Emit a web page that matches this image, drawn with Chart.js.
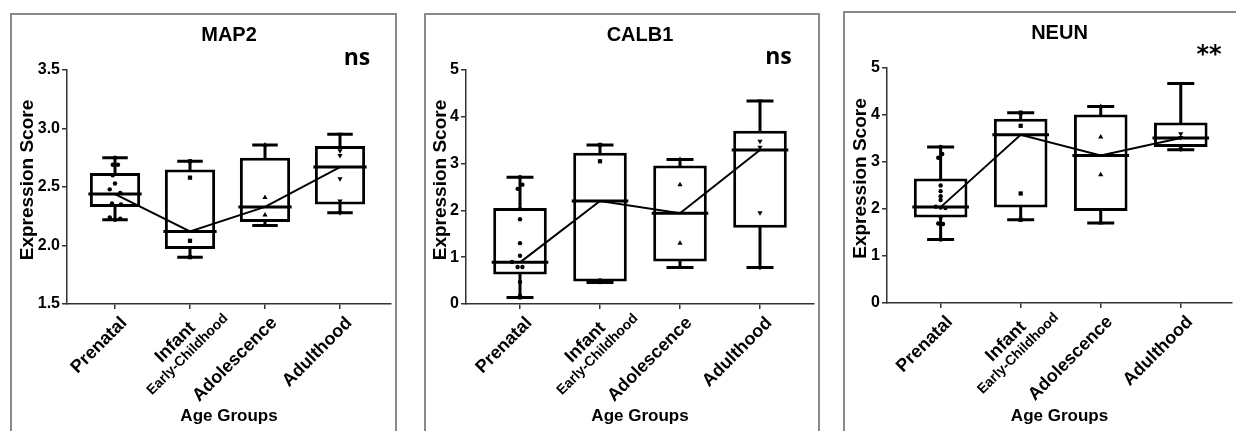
<!DOCTYPE html>
<html><head><meta charset="utf-8">
<script src="https://cdn.jsdelivr.net/npm/chart.js@4"></script>
<style>
html,body{margin:0;padding:0;background:#fff;overflow:hidden;width:1236px;height:431px;position:relative}
.frame{position:absolute;border:2px solid #8a8a8a;box-sizing:border-box}
canvas{position:absolute;top:0}
</style></head><body>
<div class="frame" style="left:10px;top:13px;width:387px;height:480px"></div>
<div class="frame" style="left:424px;top:13px;width:396px;height:480px"></div>
<div class="frame" style="left:843px;top:11px;width:420px;height:480px"></div>
<canvas id="c0" width="400" height="431" style="left:0px"></canvas>
<canvas id="c1" width="412" height="431" style="left:412px"></canvas>
<canvas id="c2" width="412" height="431" style="left:824px"></canvas>
<script>
// ---------- data ----------
const categories = ['Prenatal', ['Infant', 'Early-Childhood'], 'Adolescence', 'Adulthood'];
const panelTitles = ['MAP2', 'CALB1', 'NEUN'];
const significance = ['ns', 'ns', '**'];
const yAxisTitle = 'Expression Score';
const xAxisTitle = 'Age Groups';

const yTicksMAP2 = [1.5, 2.0, 2.5, 3.0, 3.5];
const yTicksCALB1 = [0, 1, 2, 3, 4, 5];
const yTicksNEUN = [0, 1, 2, 3, 4, 5];

// box statistics (min, Q1, median, Q3, max) per age group
const map2Min    = [2.22, 1.90, 2.17, 2.28];
const map2Q1     = [2.33, 1.97, 2.20, 2.35];
const map2Median = [2.44, 2.12, 2.33, 2.67];
const map2Q3     = [2.62, 2.65, 2.75, 2.85];
const map2Max    = [2.75, 2.72, 2.86, 2.95];

const calb1Min    = [0.14, 0.46, 0.78, 0.78];
const calb1Q1     = [0.63, 0.48, 0.91, 1.63];
const calb1Median = [0.89, 2.20, 1.94, 3.29];
const calb1Q3     = [2.05, 3.23, 2.96, 3.70];
const calb1Max    = [2.71, 3.40, 3.09, 4.34];

const neunMin    = [1.35, 1.77, 1.70, 3.26];
const neunQ1     = [1.82, 2.03, 1.96, 3.32];
const neunMedian = [2.04, 3.58, 3.14, 3.51];
const neunQ3     = [2.65, 3.92, 4.01, 3.84];
const neunMax    = [3.32, 4.05, 4.18, 4.67];

// individual samples
const map2Prenatal     = [2.75, 2.69, 2.69, 2.60, 2.53, 2.48, 2.45, 2.36, 2.35, 2.24, 2.23, 2.22];
const map2Infant       = [2.72, 2.58, 2.04, 1.90];
const map2Adolescence  = [2.86, 2.41, 2.26, 2.18, 2.17];
const map2Adulthood    = [2.95, 2.81, 2.77, 2.57, 2.38, 2.28];

const calb1Prenatal    = [2.71, 2.55, 2.46, 2.03, 1.81, 1.30, 1.03, 0.90, 0.79, 0.79, 0.47, 0.17, 0.14];
const calb1Infant      = [3.40, 3.05, 0.50, 0.47];
const calb1Adolescence = [3.09, 2.55, 1.30, 0.78];
const calb1Adulthood   = [4.34, 3.48, 3.35, 1.95, 0.78];

const neunPrenatal     = [3.32, 3.17, 3.09, 2.50, 2.38, 2.27, 2.19, 2.05, 2.03, 2.02, 1.83, 1.69, 1.68, 1.35];
const neunInfant       = [4.05, 3.77, 2.33, 1.77];
const neunAdolescence  = [4.18, 3.53, 2.73, 1.70];
const neunAdulthood    = [4.67, 3.60, 3.52, 3.34, 3.27];

// horizontal scatter offsets of the prenatal dots (display only)
const map2PrenatalJitter  = [0, -0.03, 0.04, -0.03, 0, -0.07, 0.07, -0.04, 0.08, -0.07, 0.07, 0];
const calb1PrenatalJitter = [0, 0.03, -0.03, 0, 0, 0, 0, -0.1, -0.03, 0.03, 0, 0, 0];
const neunPrenatalJitter  = [0, 0.02, -0.03, 0, 0, 0, 0, -0.06, 0, 0.06, 0, -0.03, 0.03, 0];

// ---------- styles ----------
const FONT = '"Liberation Sans", Arial, Helvetica, sans-serif';
const markerStyle = ['circle', 'rect', 'triangle', 'triangle'];
const markerRot = [0, 0, 0, 180];
const markerRadius = [2.2, 3, 3, 3];
const BOX_HALF = 0.335, CAP_HALF = 0.15;

const panels = [
  { title: panelTitles[0], sig: significance[0], yTicks: yTicksMAP2, dec: 1,
    min: map2Min, q1: map2Q1, med: map2Median, q3: map2Q3, max: map2Max,
    pts: [map2Prenatal, map2Infant, map2Adolescence, map2Adulthood],
    jit: [map2PrenatalJitter, [], [], []],
    g: { yW: 67, right: 9, top: 70, xH: 127, xMin: -0.64, xMax: 3.68, titleY: 41,
         sigFont: 'bold 23px "Open Sans", sans-serif', sigX: 357, sigY: 65, yTitleX: 28 } },
  { title: panelTitles[1], sig: significance[1], yTicks: yTicksCALB1, dec: 0,
    min: calb1Min, q1: calb1Q1, med: calb1Median, q3: calb1Q3, max: calb1Max,
    pts: [calb1Prenatal, calb1Infant, calb1Adolescence, calb1Adulthood],
    jit: [calb1PrenatalJitter, [], [], []],
    g: { yW: 54, right: 10, top: 70, xH: 127, xMin: -0.675, xMax: 3.675, titleY: 41,
         sigFont: 'bold 23px "Open Sans", sans-serif', sigX: 366.5, sigY: 64, yTitleX: 29 } },
  { title: panelTitles[2], sig: significance[2], yTicks: yTicksNEUN, dec: 0,
    min: neunMin, q1: neunQ1, med: neunMedian, q3: neunQ3, max: neunMax,
    pts: [neunPrenatal, neunInfant, neunAdolescence, neunAdulthood],
    jit: [neunPrenatalJitter, [], [], []],
    g: { yW: 63, right: 0, top: 68, xH: 128, xMin: -0.67, xMax: 3.64, titleY: 39,
         sigFont: 'bold 24px "DejaVu Sans", sans-serif', sigX: 385, sigY: 62, yTitleX: 37 } }
];

function textPlugin(p) {
  return {
    id: 'panelTexts',
    afterDraw(chart) {
      const { ctx, chartArea: a, scales: { x } } = chart;
      const g = p.g;
      ctx.save();
      ctx.fillStyle = '#000';
      ctx.font = 'bold 20px ' + FONT;
      ctx.textAlign = 'center';
      ctx.textBaseline = 'alphabetic';
      ctx.fillText(p.title, (a.left + a.right) / 2, g.titleY);
      ctx.font = g.sigFont;
      ctx.fillText(p.sig, g.sigX, g.sigY);
      ctx.save();
      ctx.translate(g.yTitleX, (a.top + a.bottom) / 2 - 7);
      ctx.rotate(-Math.PI / 2);
      ctx.font = 'bold 19px ' + FONT;
      ctx.textBaseline = 'middle';
      ctx.textAlign = 'center';
      ctx.fillText(yAxisTitle, 0, 0);
      ctx.restore();
      categories.forEach((lab, i) => {
        const px = x.getPixelForValue(i);
        ctx.save();
        ctx.translate(px, a.bottom);
        ctx.rotate(-Math.PI / 4);
        ctx.textBaseline = 'middle';
        if (Array.isArray(lab)) {
          ctx.textAlign = 'center';
          lab.forEach((line, k) => {
            ctx.font = (k === 0 ? 'bold 18px ' : 'bold 14px ') + FONT;
            ctx.fillText(line, -37.5, 17 + 17 * k);
          });
        } else {
          ctx.textAlign = 'right';
          ctx.font = 'bold 18px ' + FONT;
          ctx.fillText(lab, -5, 18);
        }
        ctx.restore();
      });
      ctx.restore();
    }
  };
}

function makeChart(id, p) {
  const g = p.g;
  const datasets = [];
  datasets.push({ type: 'line', data: p.med.map((m, i) => ({ x: i, y: m })),
    borderColor: '#000', borderWidth: 2, pointRadius: 0, fill: false, tension: 0, order: 0 });
  p.pts.forEach((vals, i) => {
    datasets.push({ type: 'line', showLine: false,
      data: vals.map((v, k) => ({ x: i + (p.jit[i][k] || 0), y: v })),
      pointStyle: markerStyle[i], rotation: markerRot[i], pointRadius: markerRadius[i],
      backgroundColor: '#000', borderColor: '#000', borderWidth: 0, order: 1 });
  });
  const segs = [];
  const gap = i => ({ x: i, y: null });
  p.med.forEach((m, i) => {
    segs.push({ x: i, y: p.q3[i] }, { x: i, y: p.max[i] }, gap(i));
    segs.push({ x: i - CAP_HALF, y: p.max[i] }, { x: i + CAP_HALF, y: p.max[i] }, gap(i));
    segs.push({ x: i, y: p.q1[i] }, { x: i, y: p.min[i] }, gap(i));
    segs.push({ x: i - CAP_HALF, y: p.min[i] }, { x: i + CAP_HALF, y: p.min[i] }, gap(i));
    segs.push({ x: i - BOX_HALF, y: m }, { x: i + BOX_HALF, y: m }, gap(i));
  });
  datasets.push({ type: 'line', data: segs, borderColor: '#000', borderWidth: 3,
    pointRadius: 0, spanGaps: false, fill: false, tension: 0, borderCapStyle: 'square', order: 2 });
  datasets.push({ type: 'bar', data: p.q1.map((q, i) => ({ x: i, y: [q, p.q3[i]] })),
    backgroundColor: '#fff', borderColor: '#000', borderWidth: 3, borderSkipped: false,
    barPercentage: BOX_HALF * 2, categoryPercentage: 1, order: 3 });

  const axisColor = '#333';
  return new Chart(document.getElementById(id), {
    type: 'bar',
    data: { datasets },
    options: {
      responsive: false, animation: false, devicePixelRatio: 1,
      layout: { padding: { top: g.top, right: g.right, left: 0, bottom: 0 } },
      plugins: { legend: { display: false }, tooltip: { enabled: false }, title: { display: false } },
      events: [],
      scales: {
        x: {
          type: 'linear', min: g.xMin, max: g.xMax, offset: false,
          afterBuildTicks: ax => { ax.ticks = categories.map((c, i) => ({ value: i })); },
          afterFit: s => { s.height = g.xH; },
          ticks: { display: false },
          grid: { offset: false, drawOnChartArea: false, drawTicks: true, tickLength: 5, color: axisColor, lineWidth: 1.5 },
          border: { display: true, color: axisColor, width: 1.5 },
          title: { display: true, text: xAxisTitle, color: '#000',
                   font: { family: FONT, size: 17, weight: 'bold' }, padding: { top: 0, bottom: 4 } }
        },
        y: {
          type: 'linear', min: p.yTicks[0], max: p.yTicks[p.yTicks.length - 1],
          afterBuildTicks: ax => { ax.ticks = p.yTicks.map(v => ({ value: v })); },
          afterFit: s => { s.width = g.yW; },
          ticks: { color: '#000', font: { family: FONT, size: 16, weight: 'bold' }, padding: 2,
                   callback: v => Number(v).toFixed(p.dec) },
          grid: { drawOnChartArea: false, drawTicks: true, tickLength: 5, color: axisColor, lineWidth: 1.5 },
          border: { display: true, color: axisColor, width: 1.5 }
        }
      }
    },
    plugins: [textPlugin(p)]
  });
}

panels.forEach((p, i) => makeChart('c' + i, p));
</script>
</body></html>
